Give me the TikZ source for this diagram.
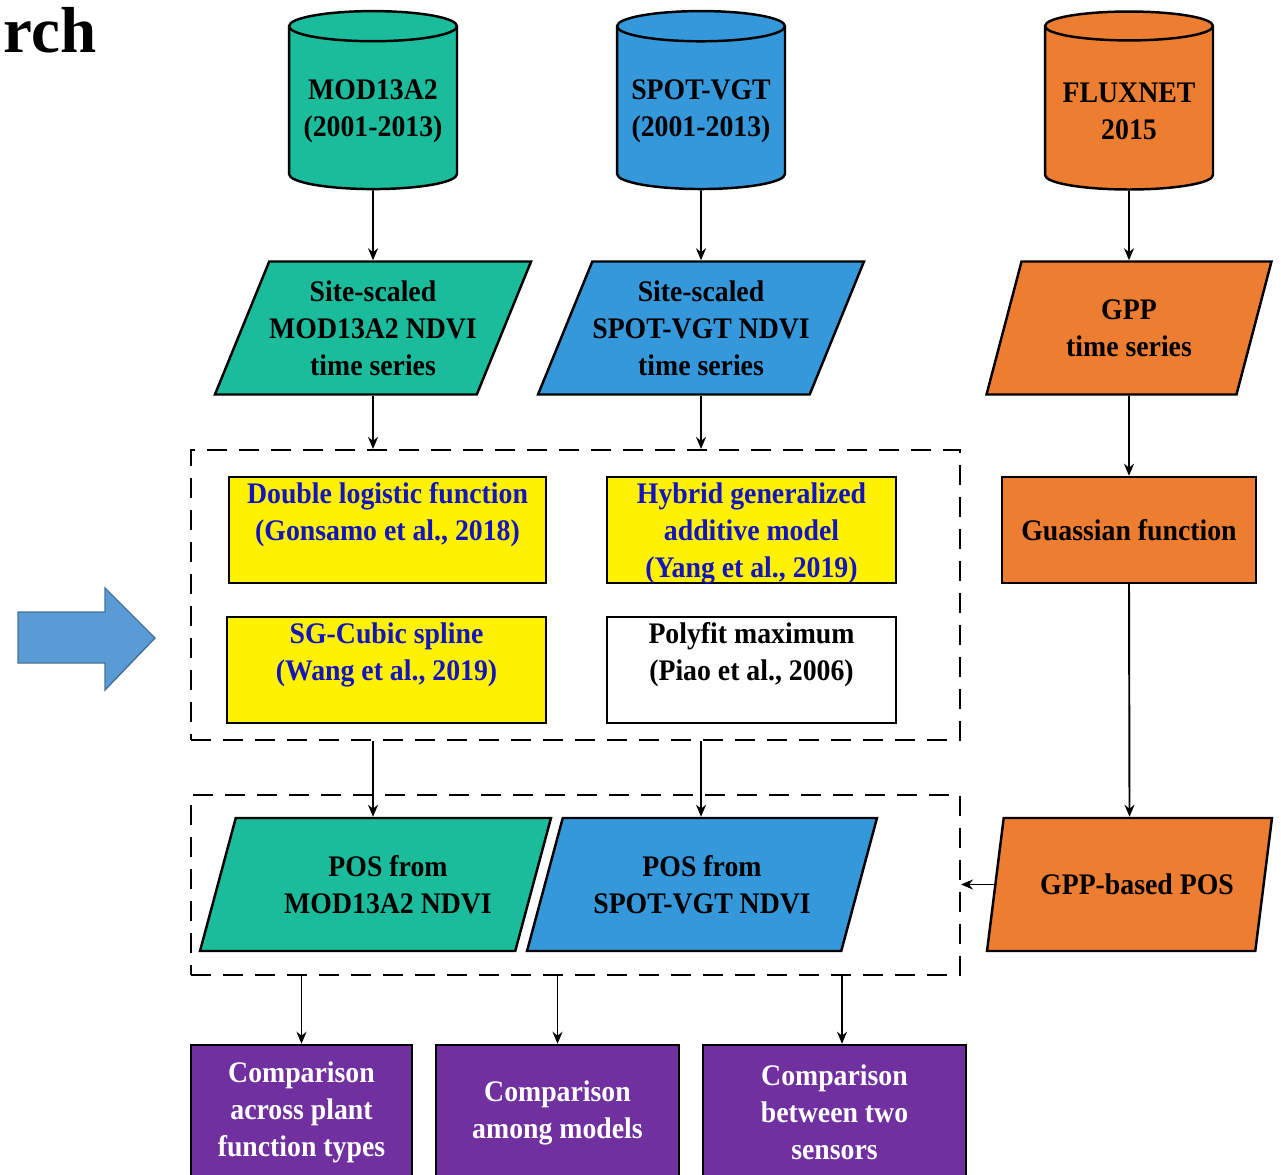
\documentclass[tikz,border=0pt]{standalone}
\usepackage{fontspec}
\setmainfont{Liberation Serif}[FakeStretch=0.93]
\newfontfamily\titlefont{Liberation Serif}
\usetikzlibrary{shapes.geometric, arrows.meta, positioning}

\definecolor{modgreen}{RGB}{26,188,156}
\definecolor{spotblue}{RGB}{52,152,219}
\definecolor{fluxorange}{RGB}{237,125,49}
\definecolor{cmppurple}{RGB}{112,48,160}
\definecolor{refblue}{RGB}{20,20,190}
\definecolor{bigarrow}{RGB}{91,155,213}
\definecolor{bigarrowline}{RGB}{65,113,156}

\begin{document}
\begin{tikzpicture}[x=0.02cm, y=-0.02cm, line width=1.1pt,
  txt/.style={font=\fontsize{17}{21}\selectfont\bfseries, align=center},
  db/.style={cylinder, shape border rotate=90, aspect=0.2, draw, line width=1.4pt,
    minimum width=3.36cm, minimum height=3.56cm, txt},
  para/.style={trapezium, trapezium left angle=63, trapezium right angle=117,
    trapezium stretches body, draw, line width=1.4pt, minimum height=2.66cm,
    inner xsep=0pt, txt},
  method/.style={rectangle, draw, line width=1.4pt, minimum height=2.12cm},
  group/.style={rectangle, draw, dash pattern=on 0.4cm off 0.24cm, line width=1.2pt},
  cmp/.style={rectangle, draw, line width=1.4pt, fill=cmppurple, text=white,
    minimum height=2.7cm, txt},
  arr/.style={-{Stealth[length=2.4mm,width=2mm]}, line width=1.1pt},
]
  \useasboundingbox (0,0) rectangle (1281,1175);
  \clip (0,0) rectangle (1281,1175);

  \node[font=\titlefont\fontsize{37}{40}\selectfont\bfseries, anchor=base west, inner sep=0pt] (title) at (3,53) {rch};

  % data sources
  \node[db, fill=modgreen] (c1) at (373,111) {MOD13A2\\(2001-2013)};
  \node[db, fill=spotblue] (c2) at (701,111) {SPOT-VGT\\(2001-2013)};
  \node[db, fill=fluxorange] (c3) at (1129,111) {FLUXNET\\2015};

  \node[para, fill=modgreen, minimum width=6.04cm] (p1) at (373,328) {Site-scaled\\MOD13A2 NDVI\\time series};
  \node[para, fill=spotblue, minimum width=6.04cm] (p2) at (701,328) {Site-scaled\\SPOT-VGT NDVI\\time series};
  \node[para, fill=fluxorange, minimum width=5.7cm] (p3) at (1129,328) {GPP\\time series};

  % methods
  \node[group, minimum width=15.38cm, minimum height=5.8cm] (g1) at (575.5,595) {};
  \node[method, fill=yellow, minimum width=6.34cm] (dl) at (387.5,530) {};
  \node[method, fill=yellow, minimum width=5.78cm] (hy) at (751.5,530) {};
  \node[method, fill=yellow, minimum width=6.38cm] (sg) at (386.5,670) {};
  \node[method, fill=white, minimum width=5.78cm] (pf) at (751.5,670) {};
  \node[txt, text=refblue, inner sep=1pt, below=0.08cm of dl.north] (dlt) {Double logistic function\\(Gonsamo et al., 2018)};
  \node[txt, text=refblue, inner sep=1pt, below=0.08cm of hy.north] (hyt) {Hybrid generalized\\additive model\\(Yang et al., 2019)};
  \node[txt, text=refblue, inner sep=1pt, below=0.08cm of sg.north] (sgt) {SG-Cubic spline\\(Wang et al., 2019)};
  \node[txt, inner sep=1pt, below=0.08cm of pf.north] (pft) {Polyfit maximum\\(Piao et al., 2006)};
  \node[method, fill=fluxorange, minimum width=5.08cm, txt] (gf) at (1129,530) {Guassian function};

  \draw[fill=bigarrow, draw=bigarrowline, line width=0.8pt]
    (18,612) -- (105,612) -- (105,588) -- (155,638) -- (105,690) -- (105,663) -- (18,663) -- cycle;

  % POS
  \node[group, minimum width=15.38cm, minimum height=3.6cm] (g2) at (575.5,885) {};
  \node[para, fill=modgreen, minimum width=7.02cm] (pm) at (375.5,884.5) {\hspace*{0.5cm}POS from\\\hspace*{0.5cm}MOD13A2 NDVI};
  \node[para, fill=spotblue, minimum width=7cm] (ps) at (702,884.5) {POS from\\SPOT-VGT NDVI};
  \node[para, fill=fluxorange, minimum width=5.7cm] (gp) at (1129.5,884.5) {\hspace*{0.3cm}GPP-based POS};

  % comparisons
  \node[cmp, minimum width=4.42cm] (cp1) at (301.5,1112.5) {Comparison\\across plant\\function types};
  \node[cmp, minimum width=4.86cm] (cp2) at (557.5,1112.5) {Comparison\\among models};
  \node[cmp, minimum width=5.26cm] (cp3) at (834.5,1112.5) {Comparison\\between two\\sensors};

  \foreach \a/\b in {c1/p1, c2/p2, c3/p3}
    \draw[arr] (\a) -- (\b);
  \draw[arr] (p1.south) -- (p1.south |- g1.north);
  \draw[arr] (p2.south) -- (p2.south |- g1.north);
  \draw[arr] (p3.south) -- (gf.north);
  \draw[arr] (gf.south) -- (gp.north);
  \draw[arr] (p1.south |- g1.south) -- (p1.south |- pm.north);
  \draw[arr] (p2.south |- g1.south) -- (p2.south |- ps.north);
  \draw[arr] (gp.west) -- (gp.west -| g2.east);
  \foreach \c in {cp1, cp2}
    \draw[arr] (\c.north |- g2.south) -- (\c.north);
  \draw[arr] ([xshift=0.15cm]cp3.north |- g2.south) -- ([xshift=0.15cm]cp3.north);
\end{tikzpicture}
\end{document}
